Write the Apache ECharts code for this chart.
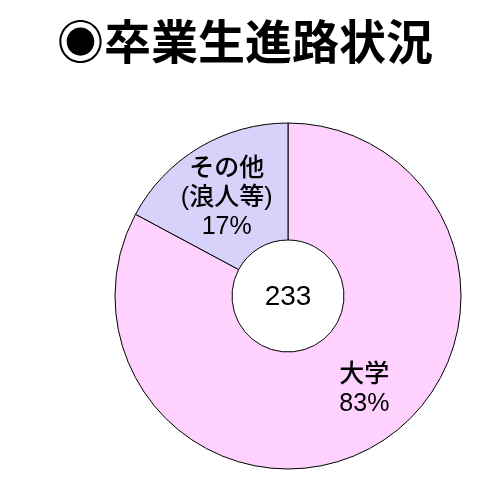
<!DOCTYPE html>
<html><head><meta charset="utf-8">
<script src="https://cdn.jsdelivr.net/npm/echarts@6/dist/echarts.min.js"></script>
<style>html,body{margin:0;padding:0;background:#fff}#c{width:490px;height:500px}</style>
</head><body><div id="c"></div>
<script>
const titleText = '◉卒業生進路状況';
const categories = ['大学', 'その他\n(浪人等)'];
const values = [193, 40];
const percents = ['83%', '17%'];
const colors = ['#FFD1FF', '#D6D2FA'];
const total = values.reduce((a, b) => a + b, 0);
const font = '"Liberation Sans", "Noto Sans CJK JP", sans-serif';
const titleFont = '"Noto Sans CJK JP", sans-serif';
const chart = echarts.init(document.getElementById('c'));
chart.setOption({
  backgroundColor: '#fff',
  animation: false,
  title: {
    text: titleText, left: 'center', top: 13,
    textStyle: { fontFamily: titleFont, fontSize: 47, fontWeight: 'bold', color: '#000' }
  },
  graphic: [{
    type: 'text', x: 288, y: 297,
    style: { text: String(total), fontFamily: font, fontSize: 28, fill: '#000', textAlign: 'center', textVerticalAlign: 'middle' }
  }],
  series: [{
    type: 'pie',
    center: [288, 296],
    radius: [56, 173],
    startAngle: 90,
    clockwise: true,
    data: categories.map((c, i) => ({
      name: c, value: values[i],
      itemStyle: { color: colors[i] },
      label: { offset: i === 0 ? [16, -7] : [-1, 3] }
    })),
    itemStyle: { borderColor: '#000', borderWidth: 1 },
    label: {
      show: true, position: 'inside',
      formatter: p => p.name + '\n' + percents[p.dataIndex],
      fontFamily: font, fontSize: 25, fontWeight: 500, lineHeight: 29, color: '#000'
    },
    labelLine: { show: false },
    emphasis: { disabled: true }
  }]
});
</script></body></html>
